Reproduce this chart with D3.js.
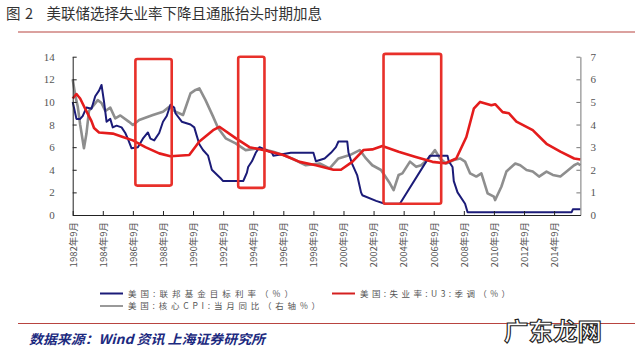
<!DOCTYPE html>
<html><head><meta charset="utf-8">
<script src="https://cdn.jsdelivr.net/npm/d3@7"></script>
<style>body{margin:0;background:#fff}svg{display:block}</style>
</head><body><svg id="c" width="640" height="359"></svg>
<script>
// ---------- data ----------
const titleText = ["图", "2", "美联储选择失业率下降且通胀抬头时期加息"];
const xTickDates = ["1982-09","1984-09","1986-09","1988-09","1990-09","1992-09","1994-09","1996-09","1998-09","2000-09","2002-09","2004-09","2006-09","2008-09","2010-09","2012-09","2014-09"];
const xDomain = ["1982-09","2016-06"];
const leftTicks = [0,2,4,6,8,10,12,14];
const rightTicks = [0,1,2,3,4,5,6,7];

// 美国:联邦基金目标利率 (%)
const fedDates = ["1982-09","1982-10","1982-12","1983-03","1983-05","1983-08","1983-12","1984-03","1984-06","1984-08","1984-10","1984-12","1985-03","1985-05","1985-08","1985-12","1986-03","1986-05","1986-08","1987-01","1987-05","1987-09","1987-11","1988-02","1988-06","1988-09","1988-12","1989-03","1989-06","1989-07","1989-12","1990-07","1990-10","1990-12","1991-02","1991-05","1991-09","1991-12","1992-07","1992-09","1994-01","1994-02","1994-04","1994-05","1994-08","1994-11","1995-02","1995-07","1995-12","1996-01","1997-03","1998-09","1998-11","1999-06","1999-11","2000-03","2000-05","2000-12","2001-01","2001-04","2001-08","2001-11","2001-12","2002-11","2003-06","2004-06","2006-06","2007-08","2007-09","2007-12","2008-01","2008-04","2008-10","2008-12","2015-11","2015-12","2016-06"];
const fedValues = [10.0,9.5,8.5,8.5,8.75,9.5,9.4,10.5,11.0,11.5,10.0,8.25,8.5,7.75,7.9,7.75,7.25,6.75,5.9,6.0,6.75,7.3,6.75,6.6,7.25,8.25,8.75,9.75,9.5,9.0,8.25,8.0,7.75,7.0,6.25,5.75,5.25,4.0,3.25,3.0,3.0,3.25,3.75,4.25,4.75,5.5,6.0,5.75,5.5,5.25,5.5,5.5,4.75,5.0,5.5,6.0,6.5,6.5,5.5,4.5,3.5,2.0,1.75,1.25,1.0,1.0,5.25,5.25,4.75,4.25,3.0,2.0,1.0,0.25,0.25,0.5,0.5];

// 美国:失业率:U3:季调 (%)
const unempDates = ["1982-09","1982-12","1983-03","1983-07","1983-12","1984-02","1984-06","1985-05","1986-01","1986-09","1987-07","1988-06","1989-03","1990-06","1991-02","1992-01","1992-06","1993-07","1994-06","1995-07","1996-09","1997-10","1998-11","2000-01","2000-07","2001-04","2002-01","2002-08","2003-04","2004-05","2005-06","2006-08","2007-06","2008-03","2008-11","2009-05","2009-10","2010-07","2010-10","2011-04","2011-09","2012-03","2013-04","2014-03","2015-02","2016-01","2016-06"];
const unempValues = [10.3,10.7,10.3,9.4,8.3,7.7,7.3,7.2,6.9,6.6,6.0,5.45,5.2,5.3,6.5,7.5,7.8,6.8,6.0,5.7,5.3,4.7,4.4,4.0,4.0,4.7,5.75,5.8,6.1,5.6,5.15,4.7,4.57,5.0,6.9,9.4,10.0,9.7,9.8,9.1,9.0,8.25,7.5,6.3,5.6,5.0,4.9];

// 美国:核心CPI:当月同比 (右轴%)
const cpiDates = ["1982-09","1982-11","1983-01","1983-03","1983-06","1983-08","1983-10","1984-01","1984-05","1984-08","1984-11","1985-03","1985-07","1985-11","1986-06","1986-09","1987-02","1987-07","1988-01","1988-09","1989-02","1989-07","1990-01","1990-07","1990-11","1991-02","1991-07","1992-01","1992-05","1992-11","1993-07","1994-03","1995-02","1996-01","1996-09","1997-04","1998-03","1999-02","1999-10","2000-05","2001-02","2001-10","2002-03","2002-08","2003-03","2003-10","2004-01","2004-05","2004-08","2005-02","2005-07","2005-11","2006-05","2006-10","2007-02","2007-07","2008-01","2008-06","2008-10","2009-02","2009-07","2009-11","2010-04","2010-09","2010-10","2011-03","2011-07","2012-02","2012-06","2012-11","2013-04","2013-09","2014-03","2014-08","2015-02","2015-07","2016-01","2016-04","2016-06"];
const cpiValues = [6.0,5.3,4.8,4.0,2.95,3.6,4.6,4.8,5.08,4.95,4.6,4.75,4.27,4.4,4.12,3.98,4.2,4.3,4.42,4.57,4.79,4.57,4.42,5.38,5.53,5.6,5.08,4.35,3.85,3.39,3.17,2.87,2.95,2.8,2.65,2.5,2.2,2.28,2.06,2.5,2.65,2.87,2.5,2.2,1.99,1.4,1.1,1.77,1.84,2.36,2.13,2.2,2.5,2.87,2.5,2.28,2.43,2.5,2.36,1.84,1.7,1.84,0.96,0.81,0.66,1.25,1.92,2.28,2.2,1.99,1.92,1.7,1.92,1.77,1.7,1.92,2.2,2.28,2.2];

// highlight boxes (period, left-axis range)
const boxStart = ["1986-11","1993-09","2003-05"];
const boxEnd = ["1989-04","1995-06","2007-03"];
const boxLow = [2.6,2.4,1.0];
const boxHigh = [13.8,14.0,14.25];

const legendLabels = ["美国:联邦基金目标利率（%）","美国:失业率:U3:季调（%）","美国:核心CPI:当月同比（右轴%）"];
const sourceText = "数据来源：Wind 资讯 上海证券研究所";
const watermark = "广东龙网";

// ---------- drawing ----------
const parse = d3.timeParse("%Y-%m");
const svg = d3.select("#c");
const L = 72.7, R = 580.4, T = 56.7, B = 215;
const x = d3.scaleTime().domain(xDomain.map(parse)).range([L, R]);
const yL = d3.scaleLinear().domain([0,14]).range([B, T]);
const yR = d3.scaleLinear().domain([0,7]).range([B, T]);

// title
const tt = svg.append("text").attr("y", 19).attr("font-family","Noto Sans CJK SC").attr("font-size",14.5).attr("fill","#333");
tt.append("tspan").attr("x",6).text(titleText[0]);
tt.append("tspan").attr("x",25).text(titleText[1]);
tt.append("tspan").attr("x",46.5).text(titleText[2]);
svg.append("line").attr("x1",18).attr("x2",635).attr("y1",32).attr("y2",32).attr("stroke","#b84440").attr("stroke-width",1.2);

// series
const mk = (dates, vals) => dates.map((d,i)=>({d:parse(d), v:vals[i]}));
const lineL = d3.line().x(p=>x(p.d)).y(p=>yL(p.v));
const lineR = d3.line().x(p=>x(p.d)).y(p=>yR(p.v));
svg.append("path").datum(mk(cpiDates,cpiValues)).attr("d",lineR).attr("fill","none").attr("stroke","#8e8e8e").attr("stroke-width",2.6).attr("stroke-linejoin","round");
svg.append("path").datum(mk(fedDates,fedValues)).attr("d",lineL).attr("fill","none").attr("stroke","#1b1b78").attr("stroke-width",2).attr("stroke-linejoin","round");
svg.append("path").datum(mk(unempDates,unempValues)).attr("d",lineL).attr("fill","none").attr("stroke","#e41c1c").attr("stroke-width",2.6).attr("stroke-linejoin","round");

// boxes
boxStart.forEach((s,i)=>{
  const x0 = x(parse(s)), x1 = x(parse(boxEnd[i]));
  const y0 = yL(boxHigh[i]), y1 = yL(boxLow[i]);
  svg.append("rect").attr("x",x0).attr("y",y0).attr("width",x1-x0).attr("height",y1-y0)
    .attr("rx",2).attr("fill","none").attr("stroke","#e8302a").attr("stroke-width",2.6);
});

// axes
const gL = svg.append("g").attr("transform",`translate(${L},0)`)
  .call(d3.axisLeft(yL).tickValues(leftTicks).tickSizeInner(-4).tickSizeOuter(0).tickPadding(18).tickFormat(d3.format("d")));
const gR = svg.append("g").attr("transform",`translate(${R},0)`)
  .call(d3.axisRight(yR).tickValues(rightTicks).tickSizeInner(-4).tickSizeOuter(0).tickPadding(10).tickFormat(d3.format("d")));
const fmt = d3.timeFormat("%Y年%-m月");
const gX = svg.append("g").attr("transform",`translate(0,${B})`)
  .call(d3.axisBottom(x).tickValues(xTickDates.map(parse)).tickSizeInner(-4).tickSizeOuter(0).tickFormat(fmt));
[gL,gR].forEach(g=>g.selectAll("text").attr("font-family","Liberation Serif").attr("font-size",11).attr("fill","#555"));
gL.selectAll("path,line").attr("stroke","#222");
gR.selectAll("path,line").attr("stroke","#777");
gX.selectAll("path,line").attr("stroke","#222");
gX.selectAll("text").attr("font-family","Noto Sans CJK SC").attr("font-size",9.5).attr("fill","#555")
  .attr("transform","rotate(-90)").attr("text-anchor","end").attr("x",-7).attr("y",0).attr("dy","0.35em");

// legend
const leg = [
  {x1:100,y:293.5,c:"#1b1b78",t:legendLabels[0],tx:128,w:165},
  {x1:332,y:293.5,c:"#d42020",t:legendLabels[1],tx:360,w:150},
  {x1:100,y:306,c:"#999",t:legendLabels[2],tx:128,w:192}
];
leg.forEach(l=>{
  svg.append("line").attr("x1",l.x1).attr("x2",l.x1+23).attr("y1",l.y).attr("y2",l.y).attr("stroke",l.c).attr("stroke-width",2);
  svg.append("text").attr("x",l.tx).attr("y",l.y+3.2).attr("font-family","Noto Sans CJK SC").attr("font-size",8.5)
    .attr("fill","#555").attr("textLength",l.w).attr("lengthAdjust","spacing").text(l.t);
});
svg.append("line").attr("x1",18).attr("x2",635).attr("y1",323.5).attr("y2",323.5).attr("stroke","#b84440").attr("stroke-width",1.2);
svg.append("text").attr("x",29).attr("y",344).attr("font-family","Noto Sans CJK SC").attr("font-size",13)
  .attr("font-weight","bold").attr("font-style","italic").attr("fill","#1c2a80")
  .attr("textLength",236).attr("lengthAdjust","spacingAndGlyphs").text(sourceText);
svg.append("text").attr("x",504).attr("y",340).attr("font-family","Noto Sans CJK SC").attr("font-size",24)
  .attr("font-weight","bold").attr("fill","#fff").attr("stroke","#222").attr("stroke-width",1.1)
  .attr("textLength",98).attr("lengthAdjust","spacingAndGlyphs").text(watermark);
</script></body></html>
